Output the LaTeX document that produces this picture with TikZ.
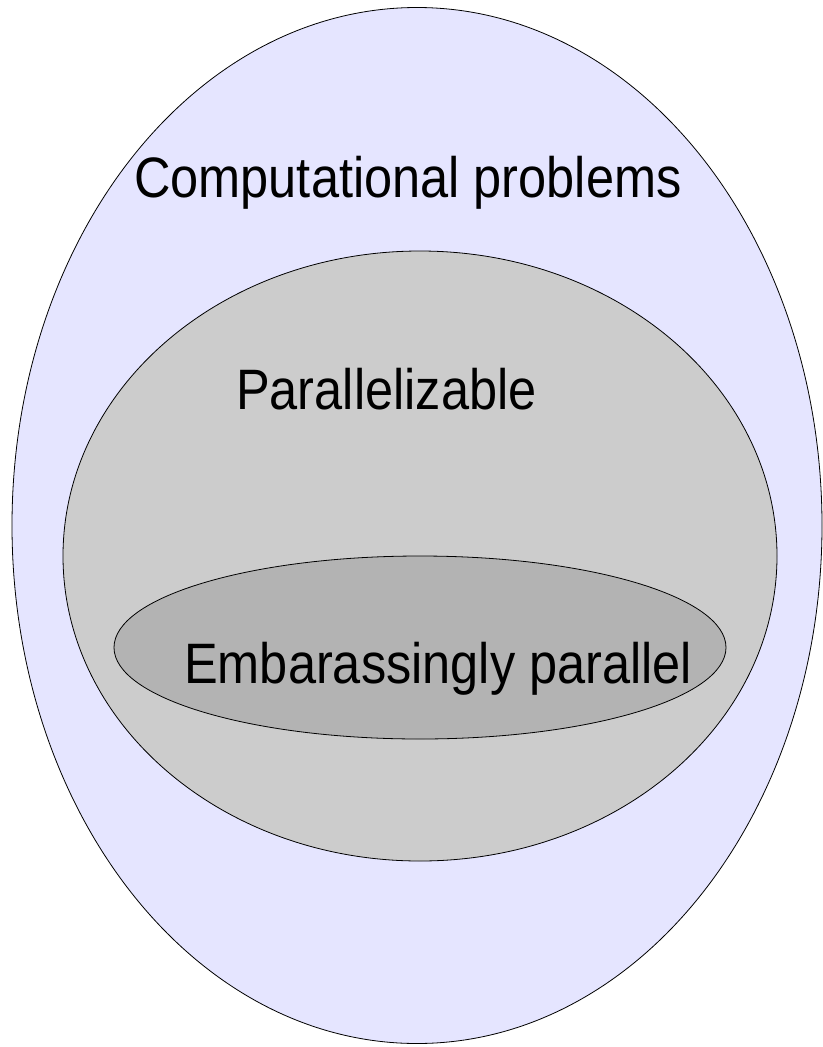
\documentclass[tikz,border=0pt]{standalone}
\usepackage{fontspec}
\setmainfont{Liberation Sans}[FakeStretch=0.886]
\begin{document}
\begin{tikzpicture}[x=1bp,y=-1bp,
  setline/.style={draw=black,line width=0.8bp},
  lbl/.style={anchor=base west,inner sep=0pt,font=\fontsize{57bp}{62bp}\selectfont}]
\definecolor{outerfill}{RGB}{229,229,255}
\definecolor{midfill}{RGB}{204,204,204}
\definecolor{innerfill}{RGB}{179,179,179}
\useasboundingbox (0,0) rectangle (823,1047);
\path[setline,fill=outerfill] (417,525.5) ellipse [x radius=405,y radius=518];
\path[setline,fill=midfill] (420,556) ellipse [x radius=357,y radius=305];
\path[setline,fill=innerfill] (420,647.5) ellipse [x radius=306,y radius=91.5];
\node[lbl] (cp) at (134,197) {Computational problems};
\node[lbl] (par) at (236,409) {Parallelizable};
\node[lbl] (emb) at (184,683) {Embarassingly parallel};
\end{tikzpicture}
\end{document}
